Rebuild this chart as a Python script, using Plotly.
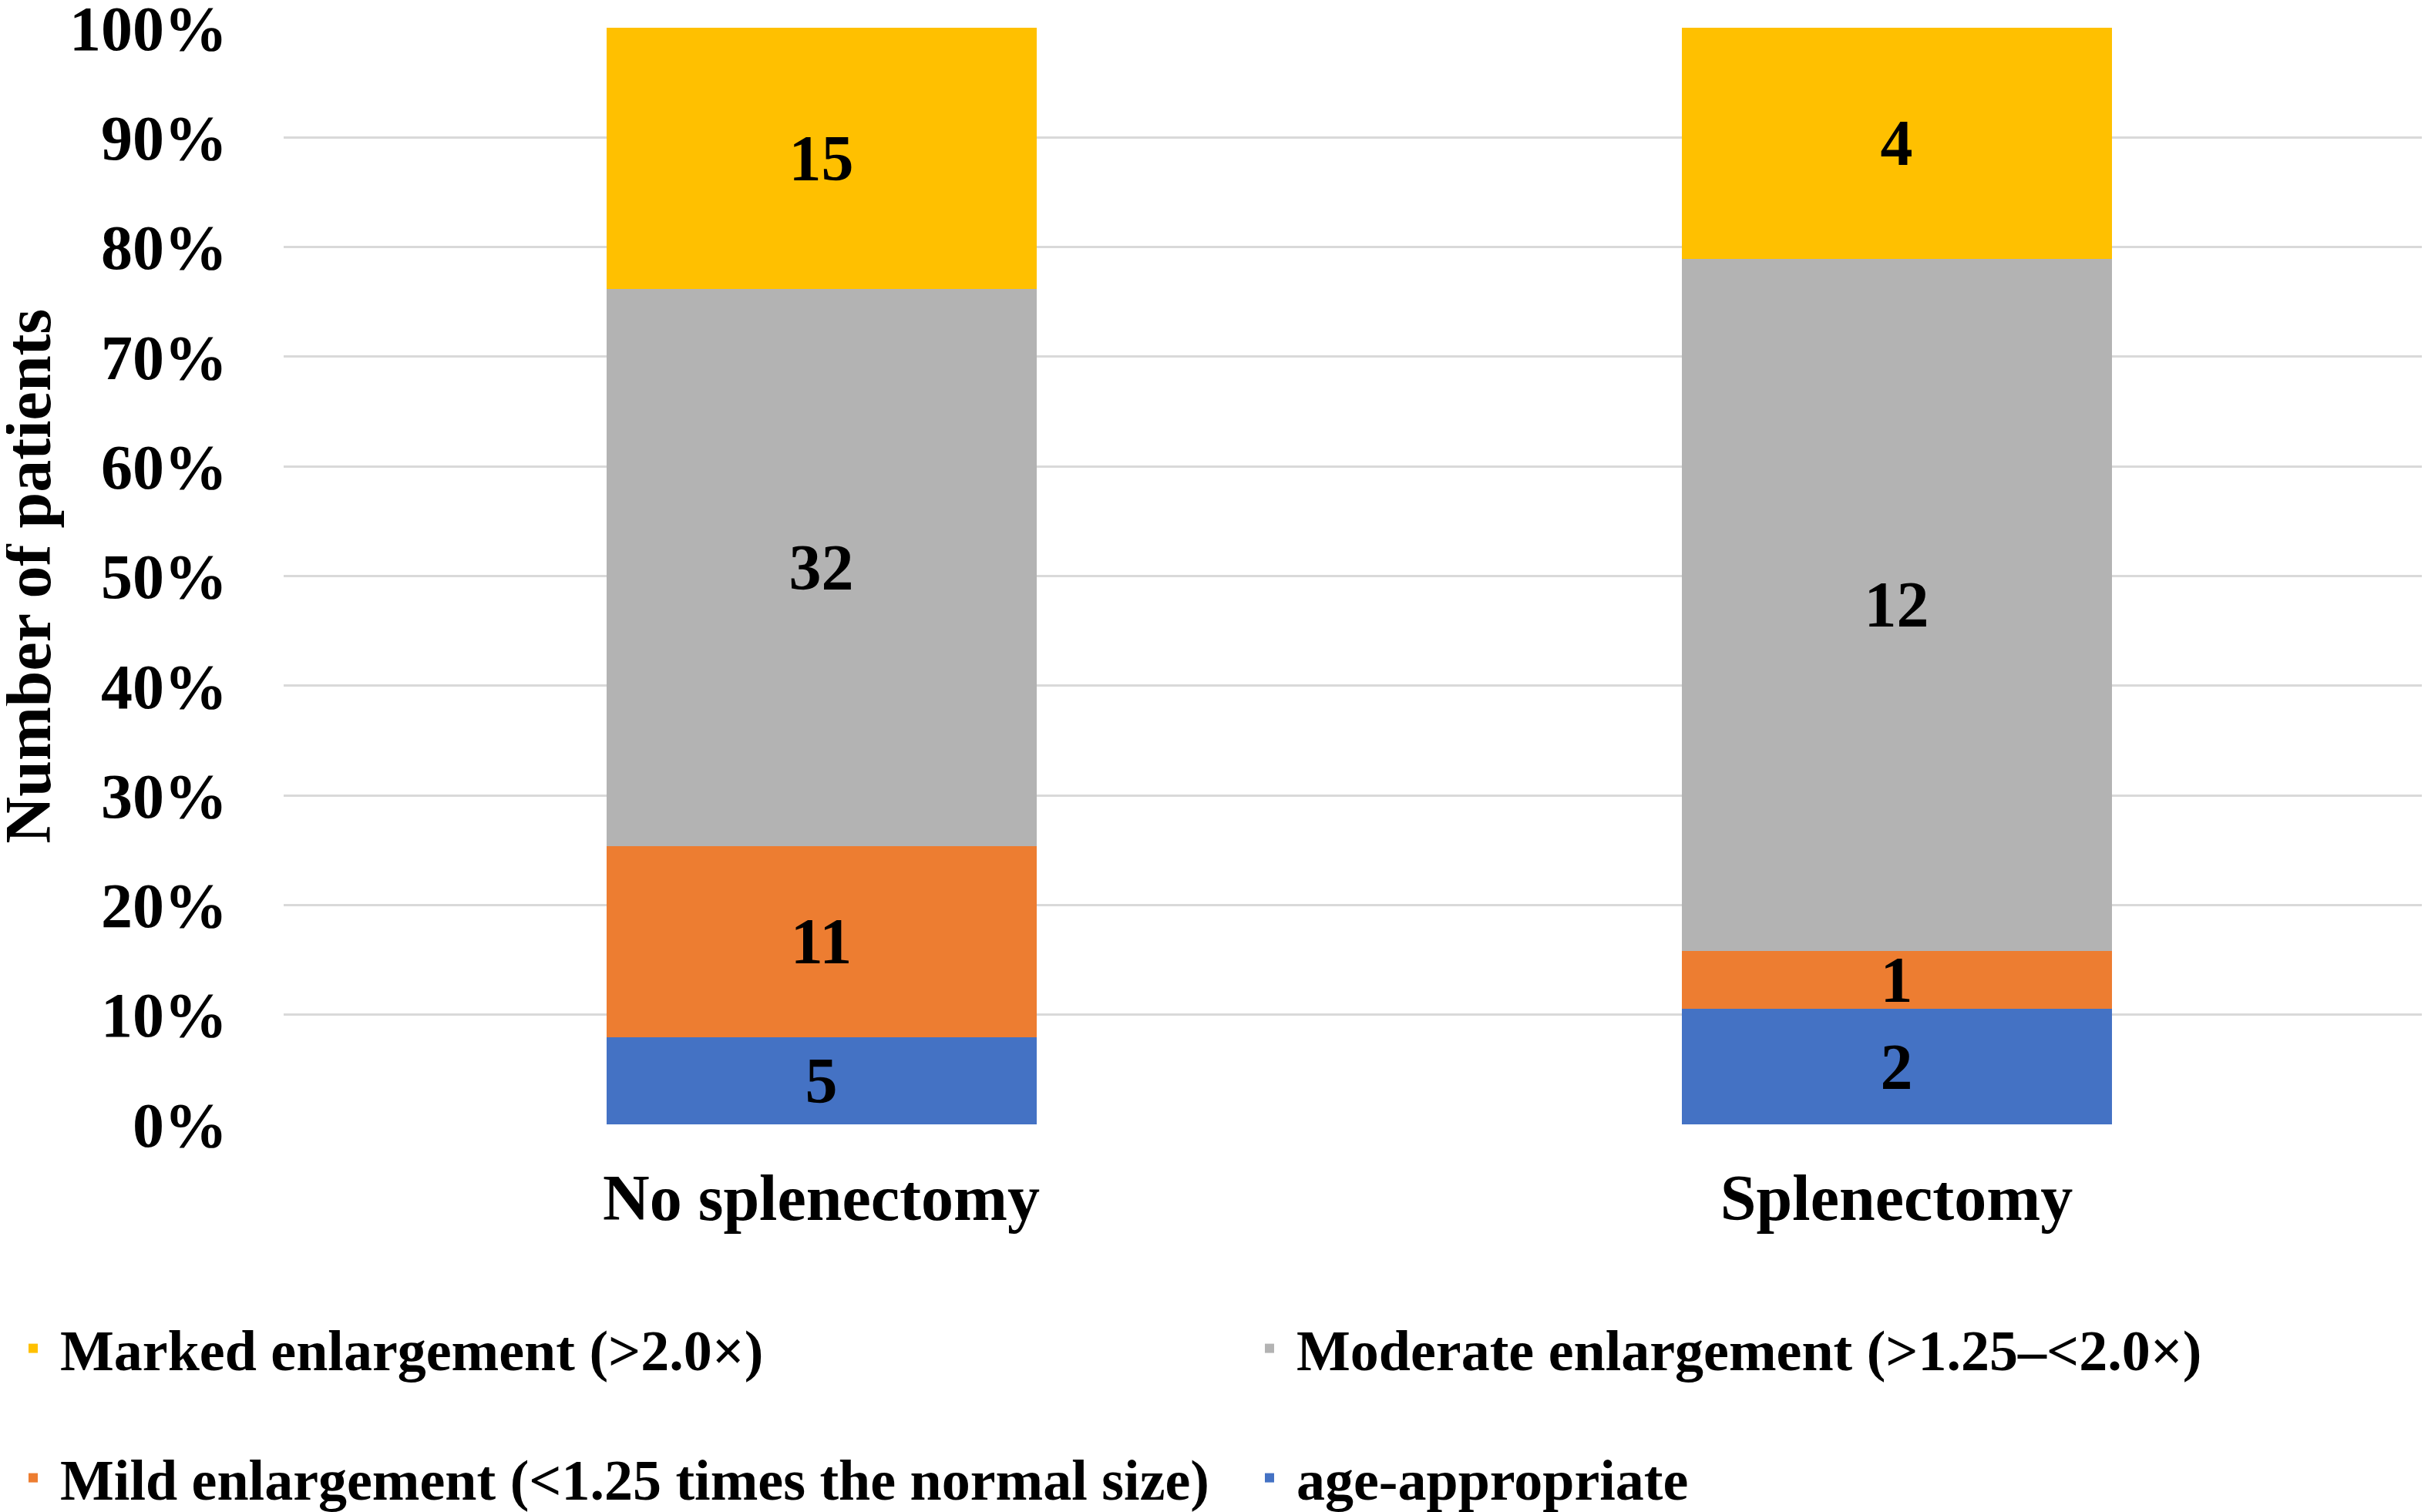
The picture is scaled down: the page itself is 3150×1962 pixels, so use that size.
import plotly.graph_objects as go

categories = ["No splenectomy", "Splenectomy"]
series_names = [
    "age-appropriate",
    "Mild enlargement (<1.25 times the normal size)",
    "Moderate enlargement (>1.25–<2.0×)",
    "Marked enlargement (>2.0×)",
]
age_appropriate = [5, 2]
mild = [11, 1]
moderate = [32, 12]
marked = [15, 4]
colors = ["#4472C4", "#ED7D31", "#B3B3B3", "#FFC000"]
tick_vals = [0, 10, 20, 30, 40, 50, 60, 70, 80, 90, 100]
tick_text = ["0%", "10%", "20%", "30%", "40%", "50%", "60%", "70%", "80%", "90%", "100%"]
y_title = "Number of patients"

FONT = "Liberation Serif"
W, H = 3150, 1962
ML, MR, MT, MB = 360, 0, 28, 511
# legend placement (container pixels): one legend per series
legend_ids = ["legend4", "legend3", "legend2", "legend"]
legend_pos = {"legend": (0, 1742), "legend2": (1604, 1742), "legend3": (0, 1910), "legend4": (1604, 1910)}

fig = go.Figure()
for name, vals, col, lg in zip(series_names, [age_appropriate, mild, moderate, marked], colors, legend_ids):
    fig.add_trace(go.Bar(
        x=categories, y=vals, name=name, marker=dict(color=col, line=dict(width=0)),
        text=vals, texttemplate="%{text}", textposition="inside", insidetextanchor="middle",
        textangle=0, constraintext="none",
        textfont=dict(family=FONT, size=84, color="black", weight="bold"),
        legend=lg, showlegend=True,
    ))

legend_layout = {}
for lg, (px, py) in legend_pos.items():
    legend_layout[lg] = dict(
        orientation="h", xref="container", yref="container", x=px / W, y=1 - py / H,
        xanchor="left", yanchor="middle",
        font=dict(family=FONT, size=74, color="black", weight="bold"),
        itemwidth=60, bgcolor="rgba(0,0,0,0)", visible=True,
    )

fig.update_layout(
    width=W, height=H,
    barmode="stack", barnorm="percent", bargap=0.6,
    plot_bgcolor="white", paper_bgcolor="white",
    font=dict(family=FONT, size=84, color="black", weight="bold"),
    margin=dict(l=ML, r=MR, t=MT, b=MB),
    showlegend=True,
    **legend_layout,
)
# y-axis title placed as a rotated annotation so it can sit at the far left edge
fig.add_annotation(
    text=y_title, textangle=-90, xref="paper", yref="paper",
    x=-(ML - 28) / (W - ML - MR), y=0.5, xanchor="center", yanchor="middle", showarrow=False,
    font=dict(family=FONT, size=84, color="black", weight="bold"),
)
fig.update_yaxes(
    range=[0, 100], tickmode="array", tickvals=tick_vals, ticktext=tick_text, automargin=False,
    showgrid=True, gridcolor="#D9D9D9", gridwidth=3, ticklabeloverflow="allow",
    tickfont=dict(size=82),
    zeroline=False, showline=False, ticks="", ticklabelstandoff=72,
)
fig.update_xaxes(showgrid=False, showline=False, zeroline=False, ticks="", ticklabelstandoff=39,
                 automargin=False)

fig.write_html("out.html")
